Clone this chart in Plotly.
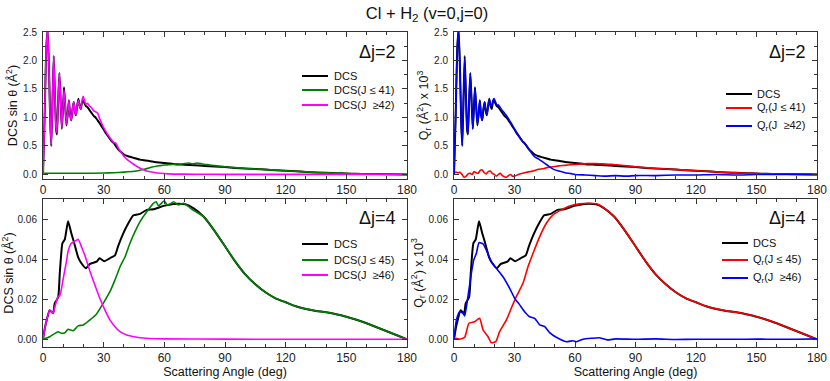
import plotly.graph_objects as go

W, H = 830, 381

# ---------------- Δj = 2 data ----------------
ang_dcs2 = [0, 0.8, 1.6, 2.3, 3.0, 3.6, 4.1, 4.7, 5.3, 5.9, 6.5, 6.9, 7.5, 8.1, 8.7, 9.3, 9.8, 10.4, 11.0, 11.6,
            12.2, 12.8, 13.4, 14.0, 14.6, 15.2, 15.8, 16.3, 16.9, 17.5, 18.1, 18.7, 19.3, 19.9, 20.5, 21.2, 22, 23, 24, 25,
            26, 27, 28, 29, 30, 31, 32, 33, 34, 35, 36, 37, 38, 39, 40, 42, 44, 46, 48, 50,
            55, 60, 65, 70, 75, 80, 85, 90, 95, 100, 105, 110, 115, 120, 125, 130, 135, 140, 145, 150,
            155, 160, 170, 180]
dcs2 = [0, 1.0, 2.2, 2.55, 1.8, 0.9, 0.5, 1.3, 2.08, 1.4, 0.78, 0.7, 1.3, 1.78, 1.3, 0.8, 1.1, 1.53, 1.2, 0.86,
        1.05, 1.3, 1.05, 0.95, 1.15, 1.27, 1.1, 1.04, 1.2, 1.33, 1.2, 1.15, 1.27, 1.3, 1.25, 1.2, 1.18, 1.13, 1.08, 1.03,
        1.0, 0.95, 0.9, 0.84, 0.79, 0.73, 0.68, 0.63, 0.58, 0.55, 0.5, 0.45, 0.41, 0.38, 0.35, 0.32, 0.3, 0.28, 0.26, 0.25,
        0.22, 0.2, 0.18, 0.17, 0.16, 0.15, 0.14, 0.13, 0.115, 0.105, 0.095, 0.085, 0.075, 0.065, 0.055, 0.045, 0.035, 0.028, 0.022, 0.016,
        0.011, 0.008, 0.004, 0]

ang_lowJ_dcs2 = [0, 10, 20, 30, 35, 40, 45, 48, 50, 52, 54, 56, 58, 60, 62, 64, 66, 68, 70, 72,
                 74, 76, 78, 80, 82, 85, 90, 95, 100, 105, 110, 115, 120, 125, 130, 135, 140, 145, 150, 155,
                 160, 170, 180]
lowJ_dcs2 = [0.02, 0.02, 0.02, 0.025, 0.03, 0.04, 0.055, 0.075, 0.09, 0.11, 0.13, 0.145, 0.155, 0.165, 0.17, 0.175, 0.185, 0.18, 0.19, 0.2,
             0.185, 0.2, 0.19, 0.175, 0.17, 0.155, 0.135, 0.12, 0.105, 0.095, 0.085, 0.075, 0.065, 0.055, 0.045, 0.035, 0.028, 0.022, 0.016, 0.011,
             0.008, 0.004, 0]

ang_highJ_dcs2 = [0, 0.8, 1.6, 2.3, 3.0, 3.6, 4.1, 4.7, 5.3, 5.9, 6.5, 6.9, 7.5, 8.1, 8.7, 9.3, 9.8, 10.4, 11.0, 11.6,
                  12.2, 12.8, 13.4, 14.0, 14.6, 15.2, 15.8, 16.3, 16.9, 17.5, 18.1, 18.7, 19.3, 19.9, 20.5, 21.2, 22, 23, 24, 25,
                  26, 27, 28, 29, 30, 31, 32, 33, 34, 35, 36, 37, 38, 39, 40, 42, 44, 46, 48, 50,
                  52, 55, 58, 62, 70, 80, 90, 100, 120, 140, 160, 180]
highJ_dcs2 = [0, 1.0, 2.2, 2.55, 1.8, 0.9, 0.52, 1.3, 2.08, 1.4, 0.8, 0.74, 1.3, 1.78, 1.3, 0.82, 1.1, 1.48, 1.2, 0.88,
              1.05, 1.3, 1.05, 0.95, 1.15, 1.27, 1.1, 1.05, 1.2, 1.3, 1.2, 1.15, 1.3, 1.37, 1.3, 1.23, 1.25, 1.2, 1.17, 1.12,
              1.1, 1.08, 0.98, 0.9, 0.82, 0.76, 0.7, 0.65, 0.6, 0.56, 0.55, 0.48, 0.42, 0.37, 0.32, 0.25, 0.2, 0.15, 0.11, 0.08,
              0.055, 0.035, 0.02, 0.01, 0.005, 0.003, 0.002, 0.002, 0.001, 0.001, 0.0005, 0]

ang_lowJ_qr2 = [0, 1, 2, 3, 4, 5, 6, 7, 8, 9, 10, 11, 12, 13, 14, 15, 16, 17, 18, 19,
                20, 21, 22, 23, 24, 25, 26, 27, 28, 29, 30, 32, 34, 36, 38, 40, 42, 44, 46, 48,
                50, 52, 55, 58, 62, 66, 70, 74, 78, 82, 86, 90, 95, 100, 105, 110, 115, 120, 125, 130,
                135, 140, 145, 150, 155, 160, 170, 180]
lowJ_qr2 = [0.03, 0.04, 0.03, 0.04, 0.0, -0.05, -0.03, 0.01, 0.02, 0.0, 0.05, 0.03, 0.02, 0.07, 0.08, 0.03, 0.01, 0.05, 0.06, 0.02,
            0.0, -0.03, 0.0, 0.02, -0.02, -0.04, -0.05, -0.02, 0.0, -0.03, -0.03, 0.0, 0.02, 0.04, 0.05, 0.07, 0.09, 0.1, 0.12, 0.13,
            0.14, 0.15, 0.16, 0.17, 0.18, 0.19, 0.19, 0.185, 0.18, 0.165, 0.15, 0.135, 0.12, 0.105, 0.095, 0.085, 0.075, 0.065, 0.055, 0.045,
            0.035, 0.028, 0.022, 0.016, 0.011, 0.008, 0.004, 0]

ang_highJ_qr2 = [0, 0.8, 1.6, 2.3, 3.0, 3.6, 4.1, 4.7, 5.3, 5.9, 6.5, 6.9, 7.5, 8.1, 8.7, 9.3, 9.8, 10.4, 11.0, 11.6,
                 12.2, 12.8, 13.4, 14.0, 14.6, 15.2, 15.8, 16.3, 16.9, 17.5, 18.1, 18.7, 19.3, 19.9, 20.5, 21.2, 22, 23, 24, 25,
                 26, 27, 28, 29, 30, 31, 32, 33, 34, 35, 36, 37, 38, 39, 40, 42, 44, 46, 48, 50,
                 52, 55, 58, 60, 65, 70, 75, 80, 85, 90, 100, 110, 120, 130, 140, 150, 160, 180]
highJ_qr2 = [0, 1.0, 2.2, 2.55, 1.8, 0.9, 0.52, 1.3, 2.03, 1.4, 0.8, 0.72, 1.3, 1.77, 1.3, 0.8, 1.1, 1.52, 1.2, 0.88,
             1.05, 1.3, 1.05, 0.95, 1.15, 1.27, 1.1, 1.05, 1.2, 1.32, 1.22, 1.2, 1.3, 1.33, 1.28, 1.22, 1.22, 1.17, 1.12, 1.08,
             1.03, 0.98, 0.92, 0.86, 0.8, 0.74, 0.68, 0.63, 0.58, 0.54, 0.5, 0.45, 0.4, 0.35, 0.31, 0.27, 0.22, 0.17, 0.12, 0.08,
             0.06, 0.03, 0.015, 0.0, -0.01, -0.02, -0.03, -0.02, -0.03, -0.02, -0.02, -0.01, -0.01, 0.0, -0.01, 0.0, 0.0, 0]

# ---------------- Δj = 4 data ----------------
ang_dcs4 = [0, 1, 1.7, 3.3, 5, 5.8, 7.5, 8.3, 9.6, 10.8, 12.4, 14, 15.2, 17.4, 19, 21.2, 23.2, 26.5, 28, 30.3,
            33, 35.6, 37.3, 39.7, 42.2, 44.7, 48, 51.3, 54.6, 59.6, 64.6, 70.4, 74.5, 79.5, 85, 90, 95, 100, 105, 110,
            115, 120, 125, 130, 135, 140, 145, 150, 155, 160, 165, 170, 175, 180]
dcs4 = [0, 0.006, 0.009, 0.0145, 0.013, 0.018, 0.021, 0.033, 0.048, 0.05, 0.059, 0.053, 0.049, 0.041, 0.038, 0.0355, 0.0377, 0.0388, 0.0405, 0.039,
        0.0405, 0.042, 0.047, 0.053, 0.058, 0.062, 0.0627, 0.0647, 0.065, 0.0667, 0.0677, 0.0675, 0.0655, 0.0613, 0.054, 0.0465, 0.039, 0.0325, 0.0275, 0.0235,
        0.0205, 0.0185, 0.0165, 0.0152, 0.0142, 0.0135, 0.0125, 0.0113, 0.0098, 0.008, 0.006, 0.004, 0.002, 0]

ang_lowJ_dcs4 = [0, 3.3, 7.5, 9.1, 10.8, 12.4, 14.9, 17.4, 19.9, 23.2, 26.5, 29.8, 33.1, 35.6, 38.1, 40.6, 43, 45.5, 48, 51.3,
                 54.6, 56, 57.1, 60, 61.3, 62.9, 64.6, 67, 69.5, 72, 73.7, 79.5, 85, 90, 95, 100, 105, 110, 115, 120,
                 125, 130, 135, 140, 145, 150, 155, 160, 165, 170, 175, 180]
lowJ_dcs4 = [0, 0.0013, 0.0038, 0.003, 0.0033, 0.005, 0.0043, 0.0067, 0.0072, 0.0097, 0.0127, 0.018, 0.0238, 0.0297, 0.0363, 0.0413, 0.048, 0.0538, 0.0588, 0.0638,
             0.068, 0.0688, 0.0667, 0.0693, 0.0672, 0.0677, 0.0688, 0.0672, 0.068, 0.0663, 0.065, 0.0613, 0.054, 0.0465, 0.039, 0.0325, 0.0275, 0.0235, 0.0205, 0.0185,
             0.0165, 0.0152, 0.0142, 0.0135, 0.0125, 0.0113, 0.0098, 0.008, 0.006, 0.004, 0.002, 0]

ang_highJ_dcs4 = [0, 1, 1.7, 3.3, 5, 5.8, 7.5, 8.3, 9.9, 10.8, 11.6, 12.4, 14, 15.7, 17.4, 19, 20.7, 23.2, 25.7, 28.1,
                  30.6, 33.1, 35.6, 38.1, 41.4, 48, 60, 90, 120, 150, 180]
highJ_dcs4 = [0, 0.006, 0.009, 0.0145, 0.013, 0.016, 0.0215, 0.0217, 0.0297, 0.0347, 0.039, 0.044, 0.048, 0.049, 0.05, 0.0463, 0.042, 0.034, 0.027, 0.0205,
              0.0147, 0.0097, 0.0063, 0.0038, 0.0022, 0.0008, 0.0002, 0.0001, 0.0, 0.0, 0]

ang_lowJ_qr4 = [0, 1.2, 2.8, 5.3, 7.4, 10.2, 12.7, 14.4, 16.9, 18.5, 20.7, 22.6, 26, 28.4, 30.9, 34.2, 36.7, 39.2, 42.5, 45.8,
                49.1, 53.2, 57.4, 62.3, 67.3, 72.2, 79.5, 85, 90, 95, 100, 105, 110, 115, 120, 125, 130, 135, 140, 145,
                150, 155, 160, 165, 170, 175, 180]
lowJ_qr4 = [0, 0.0005, 0.0, 0.001, 0.008, 0.0088, 0.0105, 0.0047, 0.0013, -0.0017, -0.0012, 0.0038, 0.0097, 0.0155, 0.0213, 0.028, 0.0363, 0.043, 0.0513, 0.058,
            0.0622, 0.0647, 0.0667, 0.0677, 0.068, 0.0672, 0.0613, 0.054, 0.0465, 0.039, 0.0325, 0.0275, 0.0235, 0.0205, 0.0185, 0.0165, 0.0152, 0.0142, 0.0135, 0.0125,
            0.0113, 0.0098, 0.008, 0.006, 0.004, 0.002, 0]

ang_highJ_qr4 = [0, 1.2, 2.8, 4.5, 5.3, 6.9, 8.6, 9.8, 11.1, 12.4, 14.4, 16.4, 18.5, 21, 24.3, 27.6, 30.1, 32.6, 35, 37.5,
                 40, 42.5, 45, 47.4, 50.7, 55.7, 59, 60.7, 64, 68, 72, 76, 80, 90, 100, 110, 120, 130, 140, 150,
                 160, 170, 180]
highJ_qr4 = [0, 0.0097, 0.0138, 0.013, 0.0117, 0.0213, 0.033, 0.0397, 0.043, 0.0483, 0.0477, 0.0438, 0.0388, 0.0355, 0.0313, 0.0255, 0.0205, 0.0172, 0.0138, 0.0113,
             0.0105, 0.0072, 0.0063, 0.0033, 0.001, -0.0012, -0.0007, -0.0012, 0.0, 0.0005, 0.0008, -0.0003, 0.0002, 0.0, 0.0002, -0.0001, 0.0, 0.0, 0.0, 0.0001,
             0.0, 0.0, 0.0002]

x_ticks = [0, 30, 60, 90, 120, 150, 180]

BLACK, GREEN, MAGENTA, RED, BLUE = "#000000", "#008000", "#ff00ff", "#ff0000", "#0000ff"
FONT = "Liberation Sans, Arial, Helvetica, sans-serif"

fig = go.Figure()

def add(x, y, color, xa, ya, width=1.6):
    fig.add_trace(go.Scatter(x=x, y=y, mode="lines", xaxis=xa, yaxis=ya, showlegend=False,
                             line=dict(color=color, width=width, shape="spline", smoothing=0.5),
                             hoverinfo="skip"))

# top-left
add(ang_dcs2, dcs2, BLACK, "x", "y", 2)
add(ang_lowJ_dcs2, lowJ_dcs2, GREEN, "x", "y")
add(ang_highJ_dcs2, highJ_dcs2, MAGENTA, "x", "y")
# top-right
add(ang_dcs2, dcs2, BLACK, "x2", "y2", 2)
add(ang_lowJ_qr2, lowJ_qr2, RED, "x2", "y2")
add(ang_highJ_qr2, highJ_qr2, BLUE, "x2", "y2")
# bottom-left
add(ang_dcs4, dcs4, BLACK, "x3", "y3", 2)
add(ang_lowJ_dcs4, lowJ_dcs4, GREEN, "x3", "y3")
add(ang_highJ_dcs4, highJ_dcs4, MAGENTA, "x3", "y3")
# bottom-right
add(ang_dcs4, dcs4, BLACK, "x4", "y4", 2)
add(ang_lowJ_qr4, lowJ_qr4, RED, "x4", "y4")
add(ang_highJ_qr4, highJ_qr4, BLUE, "x4", "y4")

LC = "#333333"
def xaxis(domain, anchor, title=None):
    d = dict(domain=domain, anchor=anchor, range=[0, 180], tickvals=x_ticks,
             showline=True, linecolor=LC, linewidth=1, mirror="allticks",
             ticks="inside", ticklen=5, tickcolor=LC,
             minor=dict(ticks="inside", ticklen=3, tickcolor=LC, dtick=10),
             showgrid=False, zeroline=False, automargin=False,
             tickfont=dict(size=12, color="#222", family=FONT))
    if title:
        d["title"] = dict(text=title, font=dict(size=12.5, color="#111", family=FONT), standoff=2)
    return d

def yaxis(domain, anchor, rng, dtick, minor, fmt, title):
    return dict(domain=domain, anchor=anchor, range=rng, dtick=dtick, tick0=0, tickformat=fmt,
                showline=True, linecolor=LC, linewidth=1, mirror="allticks",
                ticks="inside", ticklen=5, tickcolor=LC, ticklabelstandoff=3,
                minor=dict(ticks="inside", ticklen=3, tickcolor=LC, dtick=minor),
                showgrid=False, zeroline=False, automargin=False,
                tickfont=dict(size=10, color="#222", family=FONT),
                title=dict(text=title, font=dict(size=12.5, color="#111", family=FONT), standoff=2))

xl = [43 / W, 407 / W]
xr = [454 / W, 817 / W]
yt = [1 - 179 / H, 1 - 32 / H]
yb = [1 - 346.7 / H, 1 - 199.3 / H]

dcs_title = "DCS sin θ (Å<sup>2</sup>)"
qr_title = "Q<sub>r</sub> (Å<sup>2</sup>) x 10<sup>3</sup>"

fig.update_layout(
    width=W, height=H,
    margin=dict(l=0, r=0, t=0, b=0),
    paper_bgcolor="white", plot_bgcolor="white",
    font=dict(family=FONT, color="#111"),
    showlegend=False,
    title=dict(text="Cl + H<sub>2</sub> (v=0,j=0)", x=427 / W, xanchor="center",
               y=1 - 13 / H, yanchor="middle", font=dict(size=16.5, color="#111", family=FONT)),
    xaxis=xaxis(xl, "y"),
    yaxis=yaxis(yt, "x", [-0.08, 2.5], 0.5, 0.25, ".1f", dcs_title),
    xaxis2=xaxis(xr, "y2"),
    yaxis2=yaxis(yt, "x2", [-0.08, 2.5], 0.5, 0.25, ".1f", qr_title),
    xaxis3=xaxis(xl, "y3", "Scattering Angle (deg)"),
    yaxis3=yaxis(yb, "x3", [-0.0037, 0.07], 0.02, 0.01, ".2f", dcs_title),
    xaxis4=xaxis(xr, "y4", "Scattering Angle (deg)"),
    yaxis4=yaxis(yb, "x4", [-0.0037, 0.07], 0.02, 0.01, ".2f", qr_title),
)

# panel labels
for txt, xp, yp in [("Δj=2", 398, 52), ("Δj=2", 808, 52), ("Δj=4", 398, 218), ("Δj=4", 808, 218)]:
    fig.add_annotation(text=txt, x=xp / W, y=1 - yp / H, xref="paper", yref="paper",
                       xanchor="right", yanchor="middle", showarrow=False,
                       font=dict(size=18, color="#111", family=FONT))

# per-panel legends (line sample + text)
legends = [
    (302, 328, 332, [(76, BLACK, "DCS"), (90, GREEN, "DCS(J ≤ 41)"), (105, MAGENTA, "DCS(J  ≥42)")]),
    (726, 752, 755, [(94, BLACK, "DCS"), (108, RED, "Q<sub>r</sub>(J ≤ 41)"), (126, BLUE, "Q<sub>r</sub>(J  ≥42)")]),
    (302, 328, 332, [(244, BLACK, "DCS"), (260, GREEN, "DCS(J ≤ 45)"), (275, MAGENTA, "DCS(J  ≥46)")]),
    (722, 748, 751, [(243, BLACK, "DCS"), (260, RED, "Q<sub>r</sub>(J ≤ 45)"), (278, BLUE, "Q<sub>r</sub>(J  ≥46)")]),
]
for x0, x1, xt, items in legends:
    for yp, col, label in items:
        fig.add_shape(type="line", xref="paper", yref="paper", x0=x0 / W, x1=x1 / W,
                      y0=1 - yp / H, y1=1 - yp / H, line=dict(color=col, width=2))
        fig.add_annotation(text=label, x=xt / W, y=1 - yp / H, xref="paper", yref="paper",
                           xanchor="left", yanchor="middle", showarrow=False,
                           font=dict(size=11, color="#111", family=FONT))

fig.write_html("out.html", config={"displayModeBar": False, "staticPlot": True},
               post_script="document.body.style.margin='0';document.body.style.overflow='hidden';")
